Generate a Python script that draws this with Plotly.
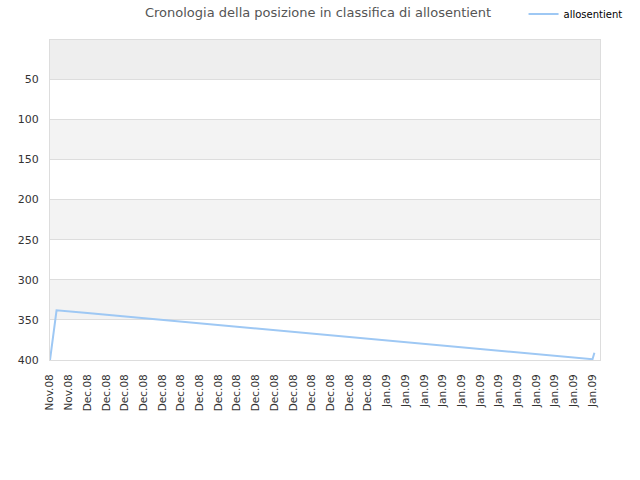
import plotly.graph_objects as go

# Data: day offset from the first sample and ranking position
days = [0, 0.7, 4, 8, 12, 16, 20, 24, 28, 32, 36, 40, 44, 48, 52, 56, 58, 58.2]
ranks = [400, 338, 341.5, 345.7, 349.9, 354.1, 358.3, 362.5, 366.7, 370.9,
         375.1, 379.3, 383.6, 387.8, 392.0, 396.2, 399, 391]

tick_days = list(range(0, 60, 2))
tick_labels = ["Nov.08"] * 2 + ["Dec.08"] * 16 + ["Jan.09"] * 12
y_ticks = [50, 100, 150, 200, 250, 300, 350, 400]
band_edges = [0, 50, 100, 150, 200, 250, 300, 350, 400]

fig = go.Figure()
fig.add_trace(go.Scatter(
    x=days, y=ranks, mode="lines", name="allosentient",
    line=dict(color="#9ec8f4", width=2),
))

shapes = []
band_colors = ["#eeeeee", "#ffffff", "#f3f3f3", "#ffffff", "#f3f3f3", "#ffffff", "#f3f3f3", "#ffffff"]
for i in range(len(band_edges) - 1):
    shapes.append(dict(type="rect", xref="paper", yref="y", x0=0, x1=1,
                       y0=band_edges[i], y1=band_edges[i + 1],
                       fillcolor=band_colors[i], line=dict(width=0), layer="below"))

fig.update_layout(
    width=640, height=480,
    margin=dict(l=50, r=40, t=40, b=120, autoexpand=False),
    paper_bgcolor="white", plot_bgcolor="white",
    font=dict(family="DejaVu Sans", size=11, color="#333333"),
    title=dict(text="Cronologia della posizione in classifica di allosentient",
               x=0.497, xref="container", xanchor="center",
               y=0.975, yref="container", yanchor="middle",
               font=dict(family="DejaVu Sans", size=13, color="#555555")),
    showlegend=True,
    legend=dict(x=0.861, xanchor="left", y=1.081, yanchor="middle",
                font=dict(family="DejaVu Sans", size=10, color="#000000"),
                bgcolor="rgba(0,0,0,0)", itemwidth=30),
    shapes=shapes,
    xaxis=dict(range=[0, 58.8], tickmode="array", tickvals=tick_days, ticktext=tick_labels,
               tickangle=-90, showgrid=False, zeroline=False,
               showline=True, linecolor="#dddddd", mirror=True,
               ticks="", ticklabelstandoff=9, tickfont=dict(size=10.5, color="#333333")),
    yaxis=dict(range=[400, 1], tickmode="array", tickvals=y_ticks,
               showgrid=True, gridcolor="#dddddd", zeroline=False,
               showline=True, linecolor="#dddddd", mirror=True,
               ticks="", ticklabelstandoff=8, tickfont=dict(size=11, color="#333333")),
)

fig.write_html("out.html", config={"displayModeBar": False},
               post_script="document.body.style.margin='0px';")
